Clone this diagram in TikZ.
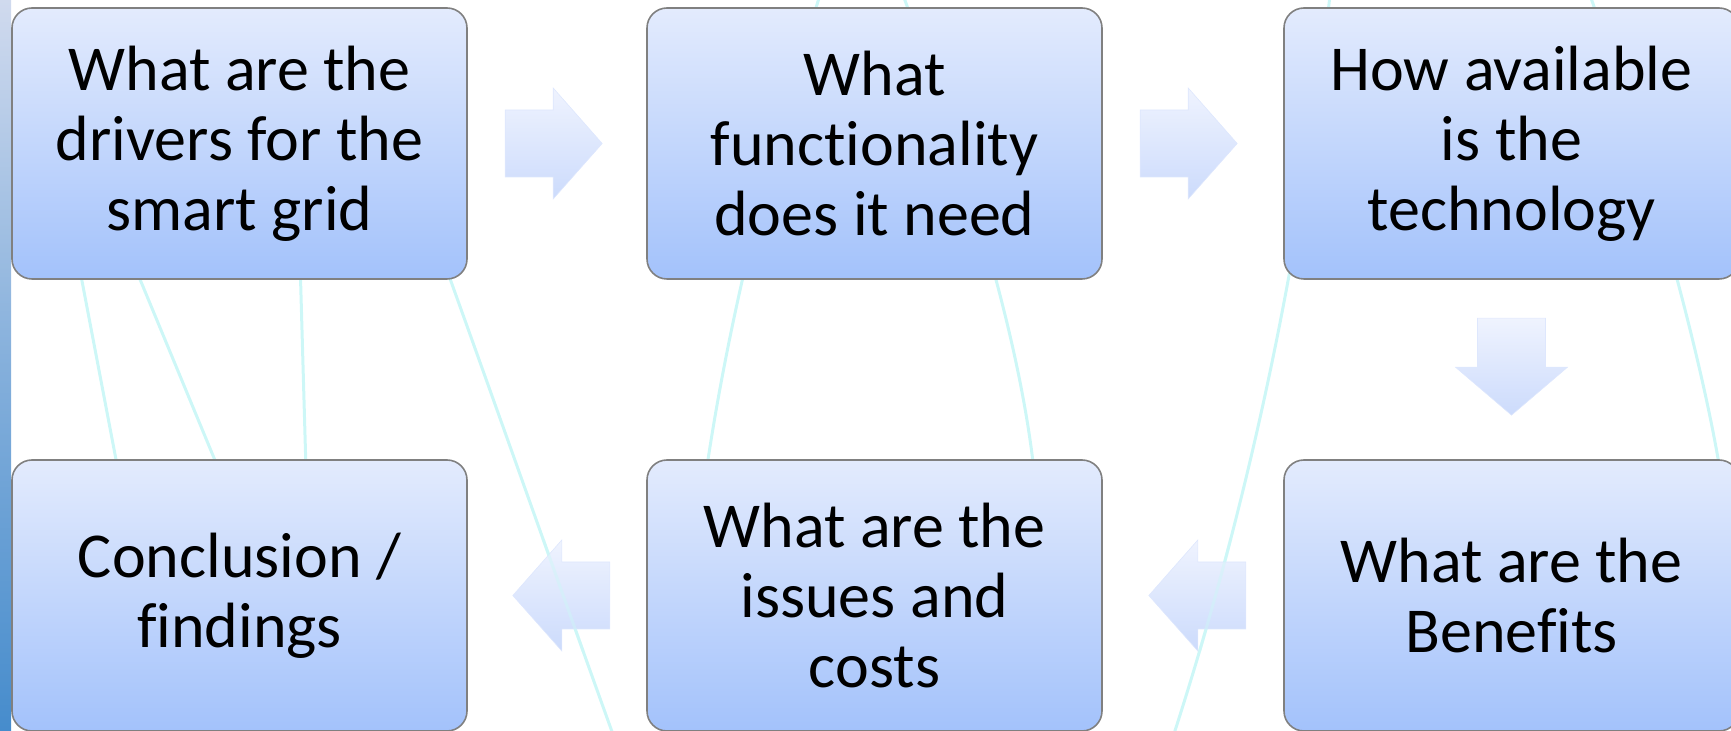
\documentclass[tikz,border=0pt]{standalone}
\usepackage{fontspec}
\setmainfont{Carlito}[Ligatures={NoCommon}]
\usetikzlibrary{calc}
\definecolor{boxtop}{RGB}{227,235,253}
\definecolor{boxbot}{RGB}{163,194,251}
\definecolor{arrtop}{RGB}{239,243,254}
\definecolor{arrbot}{RGB}{204,219,252}
\definecolor{edge}{RGB}{128,128,128}
\definecolor{curve}{RGB}{205,247,247}
\definecolor{stripA}{RGB}{208,218,238}
\definecolor{stripB}{RGB}{70,140,204}
\begin{document}
\begin{tikzpicture}[x=0.5pt,y=-0.5pt,
  stepbox/.style={draw=edge, line width=0.8pt, rounded corners=10pt,
    top color=boxtop, bottom color=boxbot,
    minimum width=227.5pt, minimum height=135.5pt, inner sep=0pt,
    align=center, font=\fontsize{32}{35}\selectfont},
  flow/.style={top color=arrtop, bottom color=arrbot,
    draw=arrtop!50!arrbot, line width=0.3pt},
  bgcurve/.style={draw=curve, line width=1.5pt},
  curveD/.style={insert path={(444,262) .. controls (492,395) and (552,565) .. (615,740)}},
  curveG/.style={insert path={(1330,-5) .. controls (1302,250) and (1250,500) .. (1172,740)}}]

\useasboundingbox (0,0) rectangle (1731,731);
\clip (0,0) rectangle (1731,731);

% background curves
\draw[bgcurve] (78,260) -- (118,470);
\draw[bgcurve] (132,260) -- (219,470);
\draw[bgcurve] (300,260) -- (306,470);
\draw[bgcurve, curveD];
\draw[bgcurve] (820,-5) .. controls (762,180) and (725,340) .. (705,480);
\draw[bgcurve] (903,-5) .. controls (960,150) and (1020,330) .. (1035,480);
\draw[bgcurve, curveG];
\draw[bgcurve] (1590,-5) .. controls (1650,170) and (1700,350) .. (1720,470);

% side strip
\shade[top color=stripA, bottom color=stripB, middle color=stripA!45!stripB]
  (0,0) rectangle (11,731);

% steps
\node[stepbox] (b1) at (239.5,143.5) {What are the\\drivers for the\\smart grid};
\node[stepbox] (b2) at (874.5,143.5) {What\\functionality\\does it need};
\node[stepbox] (b3) at (1511.5,143.5) {How available\\is the\\technology};
\node[stepbox] (b4) at (239.5,595.5) {Conclusion /\\findings};
\node[stepbox] (b5) at (874.5,595.5) {What are the\\issues and\\costs};
\node[stepbox] (b6) at (1511.5,595.5) {What are the\\Benefits};

% flow arrows, each placed by its tip
\coordinate (t1) at ($(b2.west)+(-44,0)$);
\coordinate (t2) at ($(b3.west)+(-46,0)$);
\coordinate (t3) at ($(b6.north)+(0,-44)$);
\coordinate (t4) at ($(b5.east)+(46,0)$);
\coordinate (t5) at ($(b4.east)+(45,0)$);
\foreach \t in {t1,t2}
  \path[flow] (\t) -- ($(\t)+(-49,-55.5)$) -- ($(\t)+(-49,-33.5)$)
    -- ($(\t)+(-97,-33.5)$) -- ($(\t)+(-97,33.5)$) -- ($(\t)+(-49,33.5)$)
    -- ($(\t)+(-49,55.5)$) -- cycle;
\foreach \t in {t4,t5}
  \path[flow] (\t) -- ($(\t)+(49,-55.5)$) -- ($(\t)+(49,-33.5)$)
    -- ($(\t)+(97,-33.5)$) -- ($(\t)+(97,33.5)$) -- ($(\t)+(49,33.5)$)
    -- ($(\t)+(49,55.5)$) -- cycle;
\path[flow] (t3) -- ($(t3)+(-56,-48)$) -- ($(t3)+(-34,-48)$)
  -- ($(t3)+(-34,-97)$) -- ($(t3)+(34,-97)$) -- ($(t3)+(34,-48)$)
  -- ($(t3)+(56,-48)$) -- cycle;

% the curves faintly show through the lower arrows
\begin{scope}
  \clip ($(t5)+(0,-56)$) rectangle ($(t5)+(97,56)$);
  \draw[bgcurve, draw opacity=0.45, curveD];
\end{scope}
\begin{scope}
  \clip ($(t4)+(0,-56)$) rectangle ($(t4)+(97,56)$);
  \draw[bgcurve, draw opacity=0.45, curveG];
\end{scope}
\end{tikzpicture}
\end{document}
